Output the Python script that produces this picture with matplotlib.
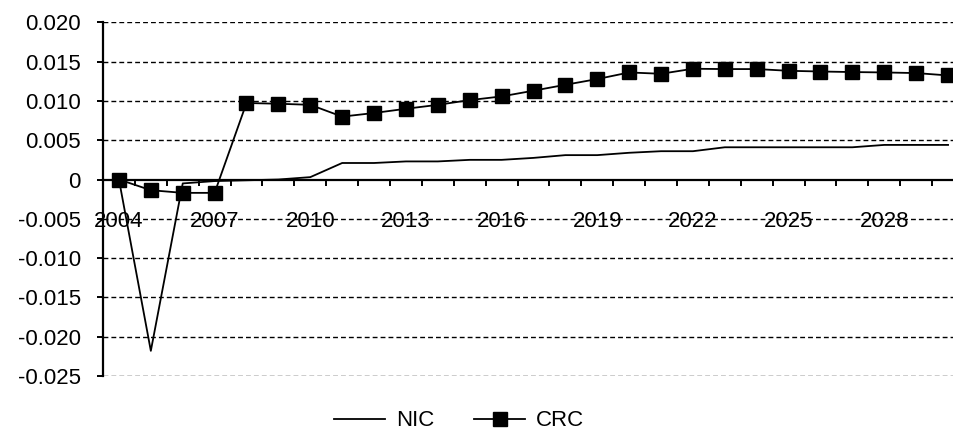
import matplotlib
matplotlib.use("Agg")
import matplotlib.pyplot as plt
from matplotlib.ticker import FixedLocator, FuncFormatter

plt.rcParams["font.family"] = ["Liberation Sans", "DejaVu Sans"]

# Years on the category axis
years = list(range(2004, 2031))

# Series values
nic = [0.0, -0.0218, -0.0005, -0.0002, -0.0001, 0.0, 0.0003, 0.0021, 0.0021,
       0.0023, 0.0023, 0.0025, 0.0025, 0.00275, 0.0031, 0.0031, 0.0034, 0.0036,
       0.0036, 0.0041, 0.0041, 0.0041, 0.0041, 0.0041, 0.0044, 0.0044, 0.0044]
crc = [0.0, -0.00136, -0.0017, -0.0017, 0.00973, 0.00964, 0.0095, 0.0080,
       0.00846, 0.0090, 0.0095, 0.0101, 0.01057, 0.0113, 0.01205, 0.01278,
       0.01362, 0.01345, 0.01409, 0.01405, 0.01405, 0.01383, 0.01374, 0.01367,
       0.01362, 0.01354, 0.01324]
y_ticks = [0.020, 0.015, 0.010, 0.005, 0.0, -0.005, -0.010, -0.015, -0.020, -0.025]

fs = 16

fig = plt.figure(figsize=(9.54, 4.33), dpi=100)
ax = fig.add_axes([103 / 954, 1 - 376 / 433, (964 - 103) / 954, (376 - 22.3) / 433])

x = list(range(len(years)))
ax.plot(x, nic, color="black", lw=1.3, label="NIC", zorder=3)
ax.plot(x, crc, color="black", lw=1.3, marker="s", ms=9.5, label="CRC", zorder=4)

ax.set_xlim(-0.5, len(years) - 0.5)
ax.set_ylim(-0.025, 0.020)

# dashed horizontal gridlines, solid zero axis
for v in y_ticks:
    if v != 0:
        ax.axhline(v, color="black", lw=1.0, linestyle=(0, (3.5, 2.2)), zorder=1)

for side in ["top", "right"]:
    ax.spines[side].set_visible(False)
ax.spines["bottom"].set_position(("data", 0))
ax.spines["bottom"].set_linewidth(1.6)
ax.spines["left"].set_linewidth(1.6)
ax.spines["bottom"].set_zorder(2)

ax.yaxis.set_major_locator(FixedLocator(y_ticks))
ax.yaxis.set_major_formatter(FuncFormatter(lambda v, p: "0" if abs(v) < 1e-12 else f"{v:.3f}"))
ax.tick_params(axis="y", direction="out", length=4, width=1.4, pad=12, labelsize=fs)

ax.xaxis.set_major_locator(FixedLocator([i + 0.5 for i in x[:-1]]))
ax.tick_params(axis="x", direction="out", length=4.5, width=1.4, labelbottom=False)

# category labels every third year, sitting on the -0.005 line like the original
for i, yr in enumerate(years):
    if (yr - 2004) % 3 == 0:
        ax.text(i, -0.005, str(yr), ha="center", va="center_baseline", fontsize=fs, zorder=0.5)

fig.legend(loc="center", bbox_to_anchor=(459 / 954, 1 - 421 / 433), ncol=2, frameon=False,
           fontsize=fs, handlelength=2.3, columnspacing=1.8, handletextpad=0.5,
           borderpad=0.1)

fig.savefig("out.png", dpi=100)
